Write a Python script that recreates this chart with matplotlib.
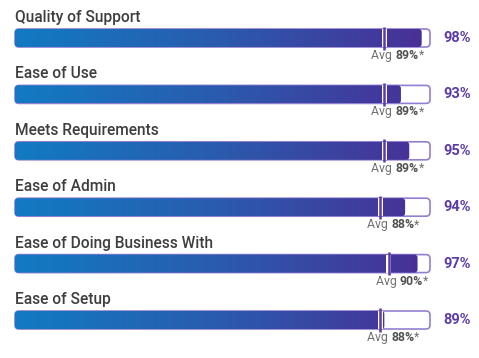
import matplotlib
matplotlib.use("Agg")
import matplotlib.pyplot as plt
import numpy as np
from matplotlib.patches import FancyBboxPatch, Rectangle
from matplotlib.colors import LinearSegmentedColormap

categories = ["Quality of Support", "Ease of Use", "Meets Requirements",
              "Ease of Admin", "Ease of Doing Business With", "Ease of Setup"]
scores = [98, 93, 95, 94, 97, 89]
averages = [89, 89, 89, 88, 90, 88]

W, H = 479, 358
fig = plt.figure(figsize=(W / 100, H / 100), dpi=100)
ax = fig.add_axes([0, 0, 1, 1])
ax.set_axis_off()

x0px, pxu = 15, 4.15          # pixel of 0 %, pixels per %
row0, rowsp = 38, 56.4        # pixel centre of first row, row spacing
ax.set_xlim(-x0px / pxu, (W - x0px) / pxu)
ax.set_ylim((H - row0) / rowsp, -row0 / rowsp)

px_y = 1 / rowsp
px_x = 1 / pxu
aspect = px_y / px_x
bar_h = 18 * px_y

cmap = LinearSegmentedColormap.from_list("g", ["#117bc3", "#2b5aad", "#4a2e96"])
grad = np.linspace(0, 1, 256).reshape(1, -1)

label_font = dict(family=["Roboto", "DejaVu Sans"], weight="medium")
for i, (cat, v, a) in enumerate(zip(categories, scores, averages)):
    y0 = i - bar_h / 2
    track = FancyBboxPatch((0, y0), 100, bar_h,
                           boxstyle=f"round,pad=0,rounding_size={4 * px_x}",
                           mutation_aspect=aspect, facecolor="white",
                           edgecolor="#927fd2", linewidth=1.2, zorder=1)
    ax.add_patch(track)
    fillp = FancyBboxPatch((0, y0), v, bar_h,
                           boxstyle=f"round,pad=0,rounding_size={3 * px_x}",
                           mutation_aspect=aspect, facecolor="none",
                           edgecolor="none", zorder=2)
    ax.add_patch(fillp)
    im = ax.imshow(grad, cmap=cmap, aspect="auto",
                   extent=(0, 100, y0 + bar_h, y0), zorder=2,
                   interpolation="bilinear")
    im.set_clip_path(fillp)
    ax.add_patch(Rectangle((a - 2.5 * px_x, y0), 5 * px_x, bar_h,
                           facecolor="white", edgecolor="none", zorder=3))
    ax.plot([a, a], [y0 - 2.5 * px_y, y0 + bar_h + 2.5 * px_y],
            color="#5a3ba8", lw=1.8, solid_capstyle="butt", zorder=4)
    ax.text(0, i - 16 * px_y, cat, fontsize=11.2, color="#3e3e3e",
            va="baseline", ha="left", **label_font)
    ax.text(100 + 13 * px_x, i, f"{v}%", fontsize=10.5, color="#5a3ba8",
            va="center", ha="left", family=["Roboto", "DejaVu Sans"],
            weight="bold")

fig.canvas.draw()
renderer = fig.canvas.get_renderer()
for i, a in enumerate(averages):
    ty = i + 17.5 * px_y
    x = a - 13 * px_x
    parts = [("Avg ", "normal", "#707070"), (f"{a}%", "bold", "#505050"),
             ("*", "normal", "#707070")]
    for s, wgt, col in parts:
        t = ax.text(x, ty, s, fontsize=8.8, color=col, weight=wgt,
                    family=["Roboto", "DejaVu Sans"], va="center", ha="left")
        bb = t.get_window_extent(renderer)
        x += bb.width / pxu

fig.savefig("out.png", dpi=100)
